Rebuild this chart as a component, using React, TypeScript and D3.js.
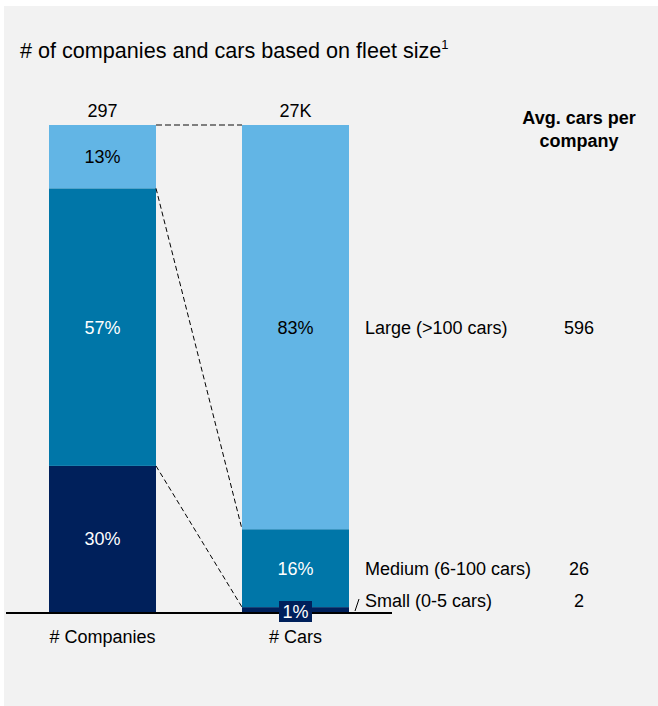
import React from "react";
import * as d3 from "d3";

const categories = ["# Companies", "# Cars"];
const totals = ["297", "27K"];
const segments = ["Small (0-5 cars)", "Medium (6-100 cars)", "Large (>100 cars)"];
const companyShares = [30, 57, 13];
const carShares = [1, 16, 83];
const avgCars = ["2", "26", "596"];
const segmentColors = ["#00205B", "#0076A8", "#62B5E5"];
const labelColors = ["#ffffff", "#ffffff", "#000000"];

const W = 658;
const H = 706;
const FONT = "'Liberation Sans', Arial, sans-serif";

export default function App() {
  const x = d3
    .scaleBand<string>()
    .domain(categories)
    .range([49, 349])
    .paddingInner(0.4456)
    .paddingOuter(0);
  const y = d3.scaleLinear().domain([0, 100]).range([612, 125]);
  const bw = x.bandwidth();

  const series = [companyShares, carShares];
  const stacks = series.map((vals) => {
    let acc = 0;
    return vals.map((v) => {
      const s = { y0: acc, y1: acc + v, v };
      acc += v;
      return s;
    });
  });

  const leftX = x(categories[0])!;
  const rightX = x(categories[1])!;
  const leftR = leftX + bw;

  const labelX = rightX + bw + 16;
  const avgX = 579;

  const comp = stacks[0];
  const cars = stacks[1];

  return (
    <div style={{ position: "absolute", left: 0, top: 0 }}>
      <svg width={W} height={H} style={{ display: "block" }} fontFamily={FONT}>
        <rect x={0} y={0} width={W} height={H} fill="#ffffff" />
        <rect x={4} y={6} width={W - 4} height={H - 6} fill="#f2f2f2" />

        <text x={20} y={58} fontSize={21.6} fill="#000">
          # of companies and cars based on fleet size
          <tspan fontSize={13} dy={-9}>1</tspan>
        </text>

        {/* bars */}
        {stacks.map((st, ci) =>
          st.map((s, si) => (
            <rect
              key={`${ci}-${si}`}
              x={x(categories[ci])!}
              y={y(s.y1)}
              width={bw}
              height={y(s.y0) - y(s.y1)}
              fill={segmentColors[si]}
            />
          ))
        )}

        {/* connectors */}
        <line
          x1={leftR}
          x2={rightX}
          y1={y(100)}
          y2={y(100)}
          stroke="#7f7f7f"
          strokeWidth={2}
          strokeDasharray="6 3"
        />
        <line
          x1={leftR}
          y1={y(comp[1].y1)}
          x2={rightX}
          y2={y(cars[1].y1)}
          stroke="#000"
          strokeWidth={1}
          strokeDasharray="5 3"
        />
        <line
          x1={leftR}
          y1={y(comp[0].y1)}
          x2={rightX}
          y2={y(cars[0].y1)}
          stroke="#000"
          strokeWidth={1}
          strokeDasharray="5 3"
        />

        {/* baseline */}
        <line x1={6} x2={392} y1={613} y2={613} stroke="#000" strokeWidth={2} />

        {/* totals */}
        {totals.map((t, i) => (
          <text
            key={t}
            x={x(categories[i])! + bw / 2}
            y={117}
            fontSize={18}
            textAnchor="middle"
            fill="#000"
          >
            {t}
          </text>
        ))}

        {/* segment labels on companies */}
        {comp.map((s, si) => (
          <text
            key={`c${si}`}
            x={leftX + bw / 2}
            y={(y(s.y0) + y(s.y1)) / 2 + 6.5}
            fontSize={18}
            textAnchor="middle"
            fill={labelColors[si]}
          >
            {s.v}%
          </text>
        ))}

        {/* segment labels on cars */}
        {cars.map((s, si) =>
          si === 0 ? (
            <g key={`r${si}`}>
              <rect
                x={rightX + bw / 2 - 16.5}
                y={601}
                width={33}
                height={21}
                fill={segmentColors[0]}
              />
              <text
                x={rightX + bw / 2}
                y={618}
                fontSize={18}
                textAnchor="middle"
                fill="#fff"
              >
                {s.v}%
              </text>
            </g>
          ) : (
            <text
              key={`r${si}`}
              x={rightX + bw / 2}
              y={(y(s.y0) + y(s.y1)) / 2 + 6.5}
              fontSize={18}
              textAnchor="middle"
              fill={labelColors[si]}
            >
              {s.v}%
            </text>
          )
        )}

        {/* right-side segment names and averages */}
        {segments.map((name, si) => {
          const s = cars[si];
          const cy = si === 0 ? 600 : (y(s.y0) + y(s.y1)) / 2;
          return (
            <g key={name}>
              <text x={labelX} y={cy + 6.5} fontSize={18} fill="#000">
                {name}
              </text>
              <text x={avgX} y={cy + 6.5} fontSize={18} textAnchor="middle" fill="#000">
                {avgCars[si]}
              </text>
            </g>
          );
        })}
        <line
          x1={rightX + bw + 6}
          y1={611}
          x2={rightX + bw + 10}
          y2={599}
          stroke="#000"
          strokeWidth={1}
        />

        {/* header */}
        <text x={avgX} y={124} fontSize={18} fontWeight="bold" textAnchor="middle" fill="#000">
          Avg. cars per
        </text>
        <text x={avgX} y={147} fontSize={18} fontWeight="bold" textAnchor="middle" fill="#000">
          company
        </text>

        {/* category labels */}
        {categories.map((c) => (
          <text
            key={c}
            x={x(c)! + bw / 2}
            y={643}
            fontSize={18}
            textAnchor="middle"
            fill="#000"
          >
            {c}
          </text>
        ))}
      </svg>
    </div>
  );
}
